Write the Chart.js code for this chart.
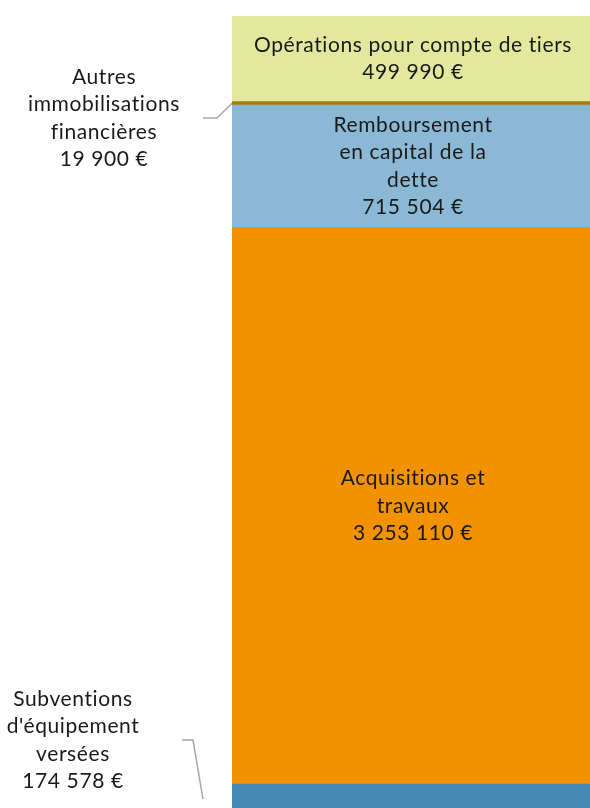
<!DOCTYPE html>
<html lang="fr">
<head>
<meta charset="utf-8">
<script src="https://cdn.jsdelivr.net/npm/chart.js@4/dist/chart.umd.min.js"></script>
<style>
  html, body { margin: 0; padding: 0; background: #fff; overflow: hidden; }
  #wrap { position: absolute; left: 0; top: 0; width: 600px; height: 822px; }
</style>
</head>
<body>
<div id="wrap"><canvas id="chart"></canvas></div>
<script>
// dépenses d'investissement, une seule colonne empilée (du bas vers le haut)
const categories = ['Dépenses d\'investissement'];

const seriesNames = [
  'Subventions d\'équipement versées',
  'Acquisitions et travaux',
  'Remboursement en capital de la dette',
  'Autres immobilisations financières',
  'Opérations pour compte de tiers'
];
const seriesValues = [174578, 3253110, 715504, 19900, 499990];
const seriesColors = ['#4289b4', '#f39200', '#8bb9d5', '#a57c14', '#e2e99e'];

// découpage des étiquettes comme sur l'original
const labelLines = [
  ['Subventions', 'd\'équipement', 'versées'],
  ['Acquisitions et', 'travaux'],
  ['Remboursement', 'en capital de la', 'dette'],
  ['Autres', 'immobilisations', 'financières'],
  ['Opérations pour compte de tiers']
];
// étiquettes sorties à gauche de la barre (avec trait de rappel)
const outsideLabels = {
  0: { x: 73, y: 740, lineFrom: 182, lineBend: 193, lineTo: 203 },
  3: { x: 104, y: 118, lineFrom: 203, lineBend: 217, lineTo: 232 }
};

const euro = v => String(v).replace(/\B(?=(\d{3})+(?!\d))/g, ' ') + ' €';

const FONT = '21px Lato';
const LINE_H = 27.5;

const labelPlugin = {
  id: 'segmentLabels',
  afterDatasetsDraw(chart) {
    const ctx = chart.ctx;
    ctx.save();
    ctx.font = FONT;
    ctx.letterSpacing = '0.6px';
    ctx.fillStyle = '#1a1a1a';
    ctx.textAlign = 'center';
    ctx.textBaseline = 'middle';
    seriesValues.forEach((v, i) => {
      const el = chart.getDatasetMeta(i).data[0];
      const cy = (el.y + el.base) / 2;
      const lines = labelLines[i].concat([euro(v)]);
      const out = outsideLabels[i];
      const x = out ? out.x : el.x;
      const y0 = (out ? out.y : cy) - (lines.length - 1) * LINE_H / 2;
      lines.forEach((t, k) => ctx.fillText(t, x, y0 + k * LINE_H));
      if (out) {
        ctx.strokeStyle = '#a6a6a6';
        ctx.lineWidth = 1.5;
        ctx.beginPath();
        ctx.moveTo(out.lineFrom, out.y);
        ctx.lineTo(out.lineBend, out.y);
        ctx.lineTo(out.lineTo, cy);
        ctx.stroke();
      }
    });
    ctx.restore();
  }
};

const total = seriesValues.reduce((a, b) => a + b, 0);

new Chart(document.getElementById('chart'), {
  type: 'bar',
  data: {
    labels: categories,
    datasets: seriesValues.map((v, i) => ({
      label: seriesNames[i],
      data: [v],
      backgroundColor: seriesColors[i],
      borderWidth: 0,
      barPercentage: 1,
      categoryPercentage: 1
    }))
  },
  options: {
    responsive: true,
    maintainAspectRatio: false,
    animation: false,
    layout: { padding: { left: 232, right: 6, top: 16, bottom: 8 } },
    plugins: { legend: { display: false }, tooltip: { enabled: false } },
    scales: {
      x: { stacked: true, display: false },
      y: { stacked: true, display: false, min: 0, max: total }
    }
  },
  plugins: [labelPlugin]
});
</script>
</body>
</html>
